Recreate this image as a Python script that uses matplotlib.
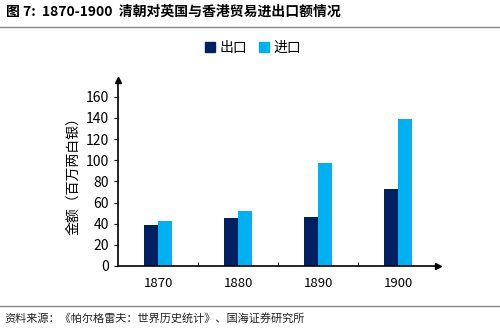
import numpy as np
import matplotlib.pyplot as plt
from matplotlib.lines import Line2D

plt.rcParams['font.family'] = ['Noto Sans CJK SC', 'DejaVu Sans']

# data
years = ['1870', '1880', '1890', '1900']
exports = [39, 45, 46, 73]
imports = [43, 52, 97, 139]
yticks = [0, 20, 40, 60, 80, 100, 120, 140, 160]

dark = '#002060'
light = '#00B0F0'

fig = plt.figure(figsize=(5, 3.3), dpi=100)
ax = fig.add_axes([0.236, 0.194, 0.64, 0.564])

x = np.arange(len(years))
w = 0.18
ax.bar(x - w / 2, exports, w, color=dark, label='出口')
ax.bar(x + w / 2, imports, w, color=light, label='进口')

ax.set_xlim(-0.5, len(years) - 0.5)
ax.set_ylim(0, 176)
ax.set_yticks(yticks)
ax.set_xticks(x)
ax.set_xticklabels(years)
ax.set_xticks(np.arange(0.5, len(years) - 0.5, 1), minor=True)
ax.tick_params(axis='x', which='major', length=0, labelsize=9.5, pad=8)
ax.tick_params(axis='x', which='minor', length=3, direction='in')
ax.tick_params(axis='y', length=3, direction='out', labelsize=10)
for s in ['top', 'right']:
    ax.spines[s].set_visible(False)
ax.spines['left'].set_linewidth(1.2)
ax.spines['bottom'].set_linewidth(1.2)

# arrow heads on the axes
ax.plot(1, 0, '>', color='black', ms=4, transform=ax.transAxes, clip_on=False)
ax.plot(0, 1, '^', color='black', ms=4, transform=ax.transAxes, clip_on=False)

ax.set_ylabel('金额（百万两白银）', fontsize=10, labelpad=4)

handles = [Line2D([], [], marker='s', ls='', color=dark, ms=7),
           Line2D([], [], marker='s', ls='', color=light, ms=7)]
fig.legend(handles, ['出口', '进口'], loc='center', bbox_to_anchor=(0.506, 0.855),
           ncol=2, frameon=False, fontsize=10, handlelength=0.8,
           handletextpad=0.3, columnspacing=0.8)

fig.text(0.012, 0.965, '图 7:  1870-1900  清朝对英国与香港贸易进出口额情况',
         fontsize=10, fontweight='bold', va='center', ha='left')
fig.add_artist(Line2D([0, 1], [0.918, 0.918], color='#888888', lw=1, transform=fig.transFigure))
fig.add_artist(Line2D([0, 1], [0.073, 0.073], color='#888888', lw=1, transform=fig.transFigure))
fig.text(0.008, 0.036, '资料来源：《帕尔格雷夫：世界历史统计》、国海证券研究所',
         fontsize=8, va='center', ha='left', color='#222222')

fig.savefig('out.png', dpi=100)
